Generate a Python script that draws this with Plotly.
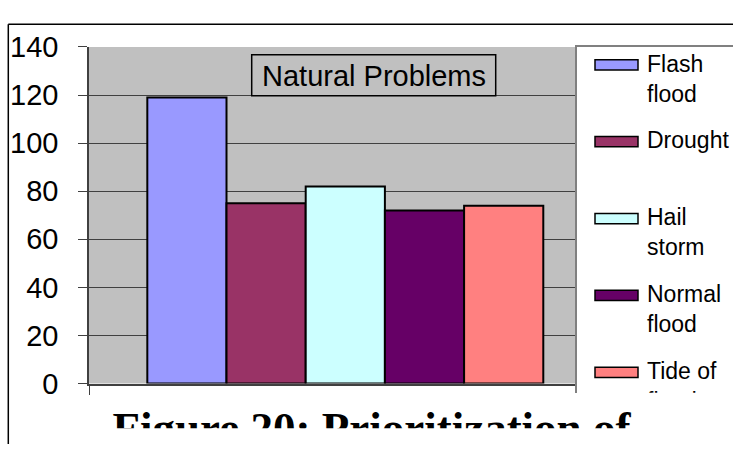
import plotly.graph_objects as go

# ---- data ----
categories = ["Natural Problems"]
series_names = ["Flash flood", "Drought", "Hail storm", "Normal flood", "Tide of flood"]
legend_labels = ["Flash<br>flood", "Drought", "Hail<br>storm", "Normal<br>flood", "Tide of<br>flood"]
values = [119, 75, 82, 72, 74]
colors = ["#9999FF", "#993366", "#CCFFFF", "#660066", "#FF8080"]
y_ticks = [0, 20, 40, 60, 80, 100, 120, 140]
chart_title = "Natural Problems"
caption = "Figure 20: Prioritization of"

W, H = 733, 460


def px(x):
    return x / W


def py(y):
    return 1 - y / H


fig = go.Figure()

for name, val, col in zip(series_names, values, colors):
    fig.add_trace(go.Bar(
        x=categories, y=[val], name=name,
        marker=dict(color=col, line=dict(color="black", width=2)),
        showlegend=False, xaxis="x", yaxis="y",
    ))

# legend drawn in its own small subplot (x3/y3), pixel coordinates, clipped at its bottom
leg_top, leg_bottom = 33.3, 405
leg_left = 577
spacing = 82.6
first_center = 19.2
text_font = 23
for i, lab in enumerate(legend_labels):
    c = first_center + spacing * i
    fig.add_trace(go.Scatter(
        x=[70], y=[c + 6 - 0.75 * text_font], mode="text", text=[lab],
        textposition="bottom right",
        textfont=dict(family="Liberation Sans, Arial", size=text_font, color="black"),
        cliponaxis=True, showlegend=False, hoverinfo="skip",
        xaxis="x3", yaxis="y3",
    ))
    fig.add_shape(type="rect", xref="x3", yref="y3",
                  x0=18, x1=61, y0=c - 5.5, y1=c + 5.5,
                  fillcolor=colors[i], line=dict(color="black", width=1.5),
                  layer="above")

# caption, clipped at the bottom like the reference
cap_font = 45
cap_baseline = 456.5
fig.add_trace(go.Scatter(
    x=[371.5], y=[cap_baseline - 0.75 * cap_font], mode="text", text=[caption],
    textposition="bottom center",
    textfont=dict(family="Liberation Serif, Times New Roman", size=cap_font, color="black",
                  weight="bold"),
    cliponaxis=True, showlegend=False, hoverinfo="skip",
    xaxis="x4", yaxis="y4",
))

plot_left, plot_right_full, plot_right_vis = 89, 601.6, 577
plot_top, plot_bottom = 33.3, 395
upper = -0.5 + (plot_right_vis - plot_left) / (plot_right_full - plot_left)

fig.update_layout(
    width=W, height=H, autosize=False,
    margin=dict(l=0, r=0, t=0, b=0),
    paper_bgcolor="white", plot_bgcolor="white",
    barmode="group", bargap=0.2275, bargroupgap=0,
    font=dict(family="Liberation Sans, Arial", color="black"),
    xaxis=dict(
        domain=[px(plot_left), px(plot_right_vis)], range=[-0.5, upper],
        type="category", showticklabels=False, showgrid=False, zeroline=False,
        showline=True, linecolor="#404040", linewidth=1.5,
        ticks="outside", tickson="boundaries", ticklen=10, tickcolor="#404040",
        anchor="y", fixedrange=True,
    ),
    yaxis=dict(
        domain=[py(plot_bottom), py(plot_top)], range=[0, 140],
        tickvals=y_ticks, ticktext=[str(v) for v in y_ticks],
        showgrid=True, gridcolor="#404040", gridwidth=1, zeroline=False,
        showline=True, linecolor="#404040", linewidth=1.5,
        ticks="outside", ticklen=9, tickcolor="#404040",
        tickfont=dict(size=29, color="black", family="Liberation Sans, Arial"),
        ticklabelstandoff=14, anchor="x", fixedrange=True,
    ),
    xaxis3=dict(
        domain=[px(leg_left), 1], range=[0, W - leg_left], anchor="y3",
        showgrid=False, zeroline=False, showticklabels=False, ticks="",
        showline=True, side="top", linecolor="#808080", linewidth=1.5,
    ),
    yaxis3=dict(
        domain=[py(leg_bottom), py(leg_top)], range=[leg_bottom - leg_top, 0], anchor="x3",
        showgrid=False, zeroline=False, showticklabels=False, ticks="",
        showline=True, side="left", linecolor="#808080", linewidth=1.5,
    ),
    xaxis4=dict(domain=[0, 1], range=[0, W], anchor="y4", visible=False),
    yaxis4=dict(domain=[py(443), py(405)], range=[443, 405], anchor="x4", visible=False),
)

# gray plot background for the main chart
fig.add_shape(type="rect", xref="x domain", yref="y domain", x0=0, x1=1, y0=0, y1=1,
              fillcolor="#C0C0C0", line=dict(width=0), layer="below")

# title box
fig.add_shape(type="rect", xref="paper", yref="paper",
              x0=px(251.7), x1=px(495.7), y0=py(85.7), y1=py(41.7),
              fillcolor="#C0C0C0", line=dict(color="black", width=1.5), layer="above")
fig.add_annotation(text=chart_title, xref="paper", yref="paper",
                   x=px(373.7), y=py(64), xanchor="center", yanchor="middle",
                   showarrow=False, font=dict(size=29, color="black"))

# outer chart border (top and left)
fig.add_shape(type="line", xref="paper", yref="paper", x0=px(8.3), x1=1, y0=py(9), y1=py(9),
              line=dict(color="black", width=1.5))
fig.add_shape(type="line", xref="paper", yref="paper", x0=px(8.3), x1=px(8.3), y0=py(9), y1=0,
              line=dict(color="black", width=1.5))

fig.write_html(
    "out.html",
    config={"displayModeBar": False},
    post_script="document.body.style.margin='0';document.body.style.overflow='hidden';",
)
